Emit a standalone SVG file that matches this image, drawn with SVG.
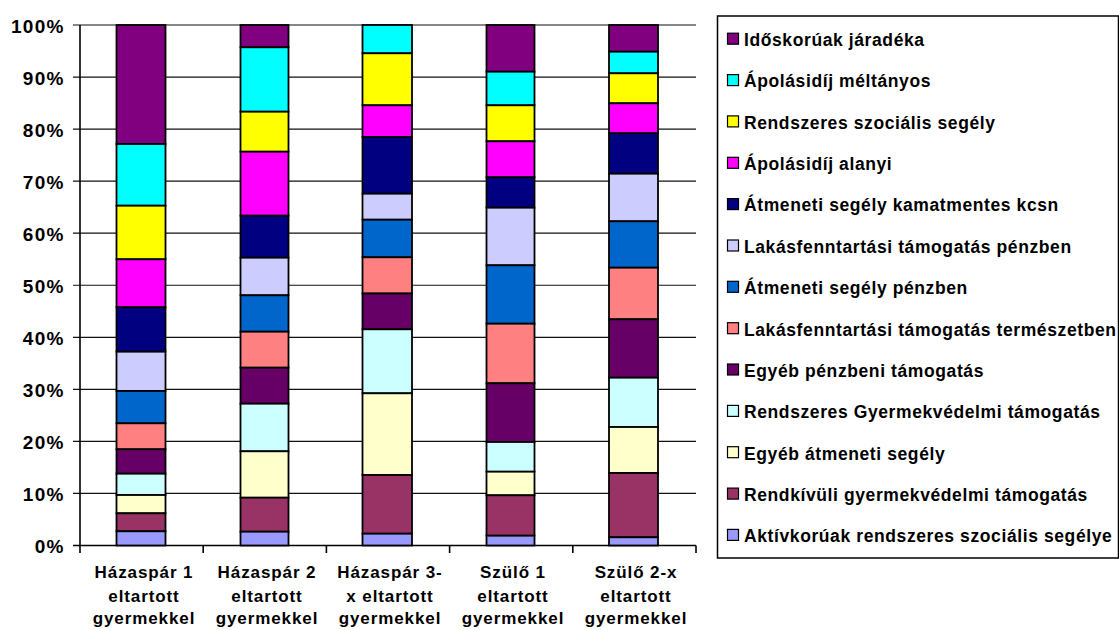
<svg xmlns="http://www.w3.org/2000/svg" width="1119" height="630" viewBox="0 0 1119 630">
<style>
.t{font-family:"Liberation Sans",Arial,sans-serif;font-weight:bold;fill:#000}
.yl{font-size:19px;letter-spacing:1.2px;text-anchor:end}
.cl{font-size:17px;letter-spacing:0.9px;text-anchor:middle}
.lg{font-size:17.5px;letter-spacing:0.6px}
.g{stroke:#111;stroke-width:1.2}
.s rect{stroke:#000;stroke-width:1.8}
.sw{stroke:#000;stroke-width:1.2}
.c1{fill:#800080}.c2{fill:#00FFFF}.c3{fill:#FFFF00}.c4{fill:#FF00FF}.c5{fill:#000080}.c6{fill:#CCCCFF}.c7{fill:#0066CC}.c8{fill:#FF8080}.c9{fill:#660066}.c10{fill:#CCFFFF}.c11{fill:#FFFFCC}.c12{fill:#993366}.c13{fill:#9999FF}
</style>
<rect width="1119" height="630" fill="#fff"/>
<g id="grid">
<line class="g" x1="73" y1="25" x2="696" y2="25"/>
<line class="g" x1="73" y1="77.05" x2="696" y2="77.05"/>
<line class="g" x1="73" y1="129.1" x2="696" y2="129.1"/>
<line class="g" x1="73" y1="181.15" x2="696" y2="181.15"/>
<line class="g" x1="73" y1="233.2" x2="696" y2="233.2"/>
<line class="g" x1="73" y1="285.25" x2="696" y2="285.25"/>
<line class="g" x1="73" y1="337.3" x2="696" y2="337.3"/>
<line class="g" x1="73" y1="389.35" x2="696" y2="389.35"/>
<line class="g" x1="73" y1="441.4" x2="696" y2="441.4"/>
<line class="g" x1="73" y1="493.45" x2="696" y2="493.45"/>
</g>
<g id="axes">
<line x1="80" y1="25" x2="80" y2="553" stroke="#000" stroke-width="1.6"/>
<line x1="73" y1="545.5" x2="696" y2="545.5" stroke="#000" stroke-width="1.6"/>
<line x1="203.2" y1="545.5" x2="203.2" y2="553" stroke="#000" stroke-width="1.6"/>
<line x1="326.4" y1="545.5" x2="326.4" y2="553" stroke="#000" stroke-width="1.6"/>
<line x1="449.6" y1="545.5" x2="449.6" y2="553" stroke="#000" stroke-width="1.6"/>
<line x1="572.8" y1="545.5" x2="572.8" y2="553" stroke="#000" stroke-width="1.6"/>
<line x1="696" y1="545.5" x2="696" y2="553" stroke="#000" stroke-width="1.6"/>
</g>
<g id="ylabels" class="t yl">
<text x="64.5" y="32.5">100%</text>
<text x="64.5" y="84.5">90%</text>
<text x="64.5" y="136.5">80%</text>
<text x="64.5" y="188.5">70%</text>
<text x="64.5" y="240.5">60%</text>
<text x="64.5" y="292.5">50%</text>
<text x="64.5" y="344.5">40%</text>
<text x="64.5" y="396.5">30%</text>
<text x="64.5" y="448.5">20%</text>
<text x="64.5" y="500.5">10%</text>
<text x="64.5" y="552.5">0%</text>
</g>
<g id="bar1" class="s">
<rect class="c1" x="116.5" y="25" width="49" height="119"/>
<rect class="c2" x="116.5" y="144" width="49" height="61.7"/>
<rect class="c3" x="116.5" y="205.7" width="49" height="53.6"/>
<rect class="c4" x="116.5" y="259.3" width="49" height="48"/>
<rect class="c5" x="116.5" y="307.3" width="49" height="44.4"/>
<rect class="c6" x="116.5" y="351.7" width="49" height="39.3"/>
<rect class="c7" x="116.5" y="391" width="49" height="32.3"/>
<rect class="c8" x="116.5" y="423.3" width="49" height="26"/>
<rect class="c9" x="116.5" y="449.3" width="49" height="24.4"/>
<rect class="c10" x="116.5" y="473.7" width="49" height="21.3"/>
<rect class="c11" x="116.5" y="495" width="49" height="18.3"/>
<rect class="c12" x="116.5" y="513.3" width="49" height="18"/>
<rect class="c13" x="116.5" y="531.3" width="49" height="14.2"/>
</g>
<g id="bar2" class="s">
<rect class="c1" x="240.5" y="25" width="48" height="22.3"/>
<rect class="c2" x="240.5" y="47.3" width="48" height="64.4"/>
<rect class="c3" x="240.5" y="111.7" width="48" height="40"/>
<rect class="c4" x="240.5" y="151.7" width="48" height="64"/>
<rect class="c5" x="240.5" y="215.7" width="48" height="42"/>
<rect class="c6" x="240.5" y="257.7" width="48" height="37.6"/>
<rect class="c7" x="240.5" y="295.3" width="48" height="36.4"/>
<rect class="c8" x="240.5" y="331.7" width="48" height="36"/>
<rect class="c9" x="240.5" y="367.7" width="48" height="36"/>
<rect class="c10" x="240.5" y="403.7" width="48" height="47.6"/>
<rect class="c11" x="240.5" y="451.3" width="48" height="46.4"/>
<rect class="c12" x="240.5" y="497.7" width="48" height="34"/>
<rect class="c13" x="240.5" y="531.7" width="48" height="13.8"/>
</g>
<g id="bar3" class="s">
<rect class="c2" x="362.5" y="25" width="49.5" height="28.3"/>
<rect class="c3" x="362.5" y="53.3" width="49.5" height="52"/>
<rect class="c4" x="362.5" y="105.3" width="49.5" height="31.7"/>
<rect class="c5" x="362.5" y="137" width="49.5" height="56.7"/>
<rect class="c6" x="362.5" y="193.7" width="49.5" height="26"/>
<rect class="c7" x="362.5" y="219.7" width="49.5" height="37.6"/>
<rect class="c8" x="362.5" y="257.3" width="49.5" height="36.2"/>
<rect class="c9" x="362.5" y="293.5" width="49.5" height="35.8"/>
<rect class="c10" x="362.5" y="329.3" width="49.5" height="64"/>
<rect class="c11" x="362.5" y="393.3" width="49.5" height="81.7"/>
<rect class="c12" x="362.5" y="475" width="49.5" height="58.7"/>
<rect class="c13" x="362.5" y="533.7" width="49.5" height="11.8"/>
</g>
<g id="bar4" class="s">
<rect class="c1" x="486.5" y="25" width="48" height="46.7"/>
<rect class="c2" x="486.5" y="71.7" width="48" height="33.6"/>
<rect class="c3" x="486.5" y="105.3" width="48" height="36"/>
<rect class="c4" x="486.5" y="141.3" width="48" height="36"/>
<rect class="c5" x="486.5" y="177.3" width="48" height="30.4"/>
<rect class="c6" x="486.5" y="207.7" width="48" height="57.6"/>
<rect class="c7" x="486.5" y="265.3" width="48" height="58.4"/>
<rect class="c8" x="486.5" y="323.7" width="48" height="59.6"/>
<rect class="c9" x="486.5" y="383.3" width="48" height="58.7"/>
<rect class="c10" x="486.5" y="442" width="48" height="29.7"/>
<rect class="c11" x="486.5" y="471.7" width="48" height="23.6"/>
<rect class="c12" x="486.5" y="495.3" width="48" height="40.4"/>
<rect class="c13" x="486.5" y="535.7" width="48" height="9.8"/>
</g>
<g id="bar5" class="s">
<rect class="c1" x="609" y="25" width="49" height="26.7"/>
<rect class="c2" x="609" y="51.7" width="49" height="21.6"/>
<rect class="c3" x="609" y="73.3" width="49" height="30"/>
<rect class="c4" x="609" y="103.3" width="49" height="30"/>
<rect class="c5" x="609" y="133.3" width="49" height="40.4"/>
<rect class="c6" x="609" y="173.7" width="49" height="47.6"/>
<rect class="c7" x="609" y="221.3" width="49" height="46.4"/>
<rect class="c8" x="609" y="267.7" width="49" height="51.6"/>
<rect class="c9" x="609" y="319.3" width="49" height="58.4"/>
<rect class="c10" x="609" y="377.7" width="49" height="49.3"/>
<rect class="c11" x="609" y="427" width="49" height="46"/>
<rect class="c12" x="609" y="473" width="49" height="64.3"/>
<rect class="c13" x="609" y="537.3" width="49" height="8.2"/>
</g>
<g id="xlabels" class="t cl">
<text x="144" y="577.5">Házaspár 1</text>
<text x="144" y="602">eltartott</text>
<text x="144" y="624">gyermekkel</text>
<text x="267" y="577.5">Házaspár 2</text>
<text x="267" y="602">eltartott</text>
<text x="267" y="624">gyermekkel</text>
<text x="390" y="577.5">Házaspár 3-</text>
<text x="390" y="602">x eltartott</text>
<text x="390" y="624">gyermekkel</text>
<text x="513" y="577.5">Szülő 1</text>
<text x="513" y="602">eltartott</text>
<text x="513" y="624">gyermekkel</text>
<text x="636" y="577.5">Szülő 2-x</text>
<text x="636" y="602">eltartott</text>
<text x="636" y="624">gyermekkel</text>
</g>
<g id="legend">
<rect x="717.5" y="16" width="401" height="542" fill="#fff" stroke="#000" stroke-width="1.5"/>
<g id="lg1"><rect class="sw c1" x="727.5" y="33.2" width="11" height="11"/><text class="t lg" x="744" y="46">Időskorúak járadéka</text></g>
<g id="lg2"><rect class="sw c2" x="727.5" y="74.6" width="11" height="11"/><text class="t lg" x="744" y="87.4">Ápolásidíj méltányos</text></g>
<g id="lg3"><rect class="sw c3" x="727.5" y="115.9" width="11" height="11"/><text class="t lg" x="744" y="128.7">Rendszeres szociális segély</text></g>
<g id="lg4"><rect class="sw c4" x="727.5" y="157.3" width="11" height="11"/><text class="t lg" x="744" y="170.1">Ápolásidíj alanyi</text></g>
<g id="lg5"><rect class="sw c5" x="727.5" y="198.6" width="11" height="11"/><text class="t lg" x="744" y="211.4">Átmeneti segély kamatmentes kcsn</text></g>
<g id="lg6"><rect class="sw c6" x="727.5" y="240" width="11" height="11"/><text class="t lg" x="744" y="252.8">Lakásfenntartási támogatás pénzben</text></g>
<g id="lg7"><rect class="sw c7" x="727.5" y="281.3" width="11" height="11"/><text class="t lg" x="744" y="294.1">Átmeneti segély pénzben</text></g>
<g id="lg8"><rect class="sw c8" x="727.5" y="322.7" width="11" height="11"/><text class="t lg" x="744" y="335.5">Lakásfenntartási támogatás természetben</text></g>
<g id="lg9"><rect class="sw c9" x="727.5" y="364" width="11" height="11"/><text class="t lg" x="744" y="376.8">Egyéb pénzbeni támogatás</text></g>
<g id="lg10"><rect class="sw c10" x="727.5" y="405.4" width="11" height="11"/><text class="t lg" x="744" y="418.2">Rendszeres Gyermekvédelmi támogatás</text></g>
<g id="lg11"><rect class="sw c11" x="727.5" y="446.7" width="11" height="11"/><text class="t lg" x="744" y="459.5">Egyéb átmeneti segély</text></g>
<g id="lg12"><rect class="sw c12" x="727.5" y="488.1" width="11" height="11"/><text class="t lg" x="744" y="500.9">Rendkívüli gyermekvédelmi támogatás</text></g>
<g id="lg13"><rect class="sw c13" x="727.5" y="529.4" width="11" height="11"/><text class="t lg" x="744" y="542.2">Aktívkorúak rendszeres szociális segélye</text></g>
</g>
</svg>
